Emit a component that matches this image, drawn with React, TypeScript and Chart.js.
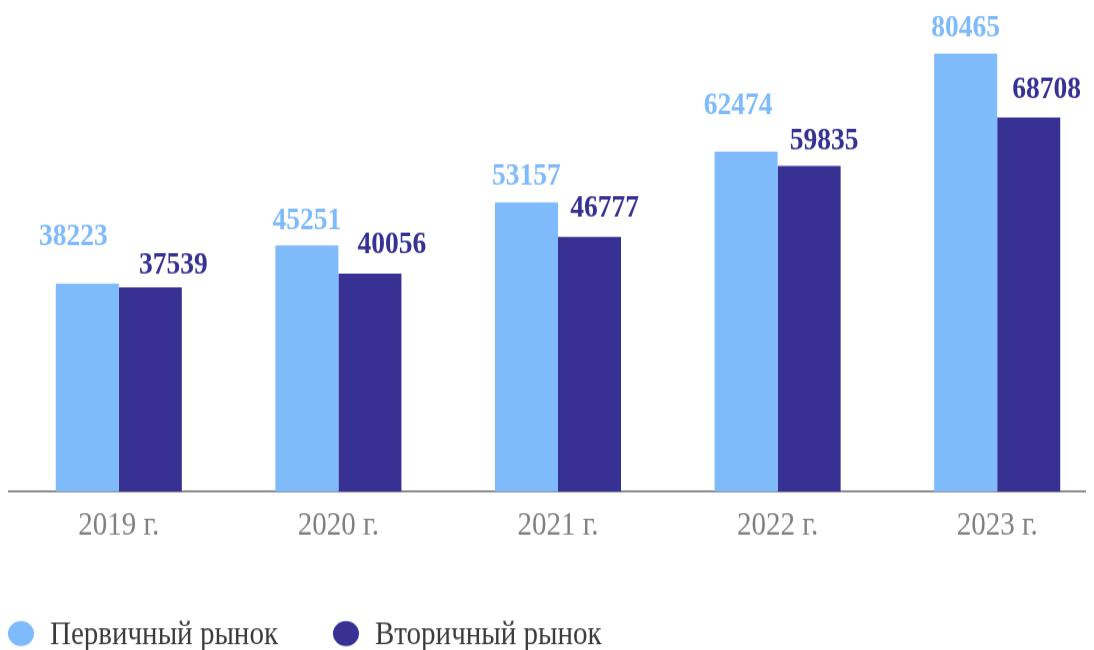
import React, { useEffect, useRef } from "react";
import { Chart, registerables } from "chart.js";

Chart.register(...registerables);

const categories = ["2019 г.", "2020 г.", "2021 г.", "2022 г.", "2023 г."];
const primaryLabel = "Первичный рынок";
const secondaryLabel = "Вторичный рынок";
const primaryValues = [38223, 45251, 53157, 62474, 80465];
const secondaryValues = [37539, 40056, 46777, 59835, 68708];

// value-label placement (label nudges, in screen px), one entry per category
const primaryLabelDx = [-14, 0, 0, -8, 0];
const primaryLabelGap = [38, 16, 18, 38, 17];
const secondaryLabelDx = [23, 22, 15, 15, 18];
const secondaryLabelGap = [14, 21, 20, 17, 19];

const LIGHT = "#7FBBFB";
const DARK = "#363192";
const SERIF = "'Liberation Serif', 'Times New Roman', serif";
const STRETCH = 1.14;

const valueLabels = {
  id: "valueLabels",
  afterDatasetsDraw(chart: any) {
    const ctx = chart.ctx;
    ctx.save();
    ctx.font = `bold 27.5px ${SERIF}`;
    ctx.textAlign = "center";
    ctx.textBaseline = "alphabetic";
    chart.data.datasets.forEach((ds: any, di: number) => {
      const meta = chart.getDatasetMeta(di);
      const dxs = di === 0 ? primaryLabelDx : secondaryLabelDx;
      const gaps = di === 0 ? primaryLabelGap : secondaryLabelGap;
      ctx.fillStyle = ds.backgroundColor;
      meta.data.forEach((bar: any, i: number) => {
        ctx.fillText(String(ds.data[i]), bar.x + dxs[i], bar.y - gaps[i] / STRETCH);
      });
    });
    ctx.restore();
  },
};

const customLegend = {
  id: "customLegend",
  afterDraw(chart: any) {
    const ctx = chart.ctx;
    ctx.save();
    ctx.font = `29px ${SERIF}`;
    ctx.textBaseline = "middle";
    ctx.textAlign = "left";
    const rx = 13;
    const ry = 12.5 / STRETCH;
    const cy = chart.height - 14.3;
    let x = 0;
    chart.data.datasets.forEach((ds: any) => {
      ctx.fillStyle = ds.backgroundColor;
      ctx.beginPath();
      ctx.ellipse(x + rx, cy, rx, ry, 0, 0, Math.PI * 2);
      ctx.fill();
      const tx = x + 2 * rx + 16;
      ctx.fillStyle = "#3b3b3b";
      ctx.fillText(ds.label, tx, cy + 1.5);
      x = tx + ctx.measureText(ds.label).width + 55;
    });
    ctx.restore();
  },
};

export default function App() {
  const ref = useRef<HTMLCanvasElement | null>(null);
  useEffect(() => {
    if (!ref.current) return;
    const chart = new Chart(ref.current, {
      type: "bar",
      data: {
        labels: categories,
        datasets: [
          { label: primaryLabel, data: primaryValues, backgroundColor: LIGHT, categoryPercentage: 0.574, barPercentage: 1 },
          { label: secondaryLabel, data: secondaryValues, backgroundColor: DARK, categoryPercentage: 0.574, barPercentage: 1 },
        ],
      },
      options: {
        animation: false,
        responsive: true,
        maintainAspectRatio: false,
        layout: { padding: { left: 1, right: 1, top: 4, bottom: 78 } },
        plugins: { legend: { display: false }, tooltip: { enabled: false } },
        scales: {
          x: {
            grid: { display: false, drawTicks: false },
            border: { display: true, color: "#8f8f8f", width: 2 },
            ticks: { color: "#808080", font: { family: SERIF, size: 29 }, padding: 13 },
          },
          y: { display: false, min: 0, max: 88000 },
        },
      },
      plugins: [valueLabels, customLegend],
    });
    return () => chart.destroy();
  }, []);
  return (
    <div style={{ width: 1086, height: 642, overflow: "hidden" }}>
      <div
        style={{
          width: 1100,
          height: Math.round(642 / STRETCH),
          position: "relative",
          transform: `scaleY(${STRETCH})`,
          transformOrigin: "top left",
        }}
      >
        <canvas ref={ref} />
      </div>
    </div>
  );
}
